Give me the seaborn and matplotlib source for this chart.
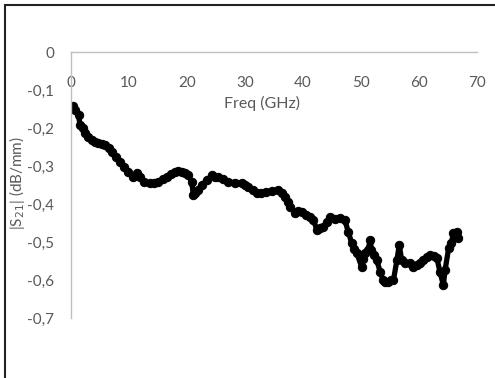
import matplotlib
matplotlib.use("Agg")
import matplotlib.pyplot as plt
import seaborn as sns
import pandas as pd
from matplotlib.patches import Rectangle

freq = [0.1, 0.3, 0.7, 1.3, 1.55, 2.0, 2.4, 3.0, 3.6, 4.2, 4.7, 5.3, 5.9, 6.5, 7.0, 7.7, 8.4, 9.1, 9.9,
        10.7, 11.3, 11.9, 12.5, 13.6, 14.3, 15.0, 15.8, 16.5, 17.2, 17.9, 18.5, 19.1, 19.7, 20.2, 20.8,
        21.1, 21.4, 21.9, 22.5, 23.4, 24.3, 24.8, 25.4, 26.2, 27.1, 28.2, 29.4, 30.0, 30.6, 31.3, 32.0,
        32.8, 33.7, 34.7, 35.7, 36.3, 36.9, 37.4, 37.8, 38.6, 39.2, 39.8, 40.5, 41.2, 41.8, 42.4, 43.0,
        43.5, 44.1, 44.7, 45.5, 46.4, 47.2, 47.8, 48.4, 48.8, 49.3, 50.1, 50.4, 50.7, 51.2, 51.6, 51.8,
        52.3, 52.7, 53.3, 53.8, 54.2, 54.7, 55.2, 55.6, 56.2, 56.6, 57.0, 57.6, 58.4, 59.0, 59.6, 60.2,
        60.7, 61.3, 61.9, 62.5, 63.1, 63.6, 64.2, 64.5, 65.1, 65.6, 65.9, 66.5, 66.8]
s21 = [-0.144, -0.142, -0.152, -0.166, -0.192, -0.200, -0.214, -0.224, -0.232, -0.238, -0.240, -0.242,
       -0.245, -0.252, -0.262, -0.275, -0.289, -0.302, -0.315, -0.328, -0.319, -0.330, -0.341, -0.346,
       -0.344, -0.341, -0.335, -0.328, -0.322, -0.315, -0.312, -0.315, -0.318, -0.324, -0.341, -0.376,
       -0.372, -0.363, -0.350, -0.338, -0.324, -0.330, -0.328, -0.335, -0.341, -0.344, -0.346, -0.350,
       -0.354, -0.362, -0.372, -0.370, -0.368, -0.366, -0.363, -0.370, -0.381, -0.395, -0.407, -0.424,
       -0.418, -0.420, -0.428, -0.433, -0.442, -0.468, -0.462, -0.460, -0.447, -0.433, -0.440, -0.438,
       -0.442, -0.473, -0.503, -0.518, -0.530, -0.565, -0.545, -0.530, -0.520, -0.495, -0.521, -0.535,
       -0.547, -0.578, -0.600, -0.605, -0.604, -0.600, -0.600, -0.547, -0.508, -0.547, -0.555, -0.556,
       -0.565, -0.561, -0.555, -0.547, -0.540, -0.534, -0.538, -0.543, -0.578, -0.613, -0.574, -0.517,
       -0.503, -0.477, -0.473, -0.490]

x_ticks = [0, 10, 20, 30, 40, 50, 60, 70]
y_ticks = [0, -0.1, -0.2, -0.3, -0.4, -0.5, -0.6, -0.7]
y_tick_labels = ["0", "-0,1", "-0,2", "-0,3", "-0,4", "-0,5", "-0,6", "-0,7"]

df = pd.DataFrame({"freq": freq, "s21": s21})

sns.set_theme(style="white")
plt.rcParams["font.family"] = ["Lato", "DejaVu Sans"]

fig = plt.figure(figsize=(4.95, 3.78), dpi=100)
ax = fig.add_axes([71/495, 1 - 318/378, (477 - 71)/495, (318 - 52)/378])

sns.lineplot(data=df, x="freq", y="s21", ax=ax, color="black", linewidth=3.8,
             marker="o", markersize=6, markeredgecolor="black", markerfacecolor="black")

ax.set_xlim(0, 70)
ax.set_ylim(-0.7, 0)
ax.set_xticks(x_ticks)
ax.set_xticklabels([str(t) for t in x_ticks])
ax.set_yticks(y_ticks)
ax.set_yticklabels(y_tick_labels)

ax.spines["bottom"].set_position(("data", 0))
for sp in ["top", "right"]:
    ax.spines[sp].set_visible(False)
for sp in ["bottom", "left"]:
    ax.spines[sp].set_color("#bfbfbf")
    ax.spines[sp].set_linewidth(1.0)

ax.tick_params(axis="x", length=0, pad=17, labelsize=11, labelcolor="#595959")
ax.tick_params(axis="y", length=0, pad=12, labelsize=11, labelcolor="#595959")

ax.set_xlabel("")
ax.set_ylabel("")
fig.text(262/495, 1 - 103/378, "Freq (GHz)", ha="center", va="center", fontsize=11.5, color="#595959")
fig.text(17/495, 1 - 183/378, r"|S$_{21}$| (dB/mm)", ha="center", va="center", rotation=90,
         fontsize=11, color="#595959")

fig.patches.append(Rectangle((5/495, -0.5), 2.0, 1.5 - 4.5/378, transform=fig.transFigure,
                             fill=False, edgecolor="#222222", linewidth=1.5, zorder=10))

fig.savefig("out.png", dpi=100)
